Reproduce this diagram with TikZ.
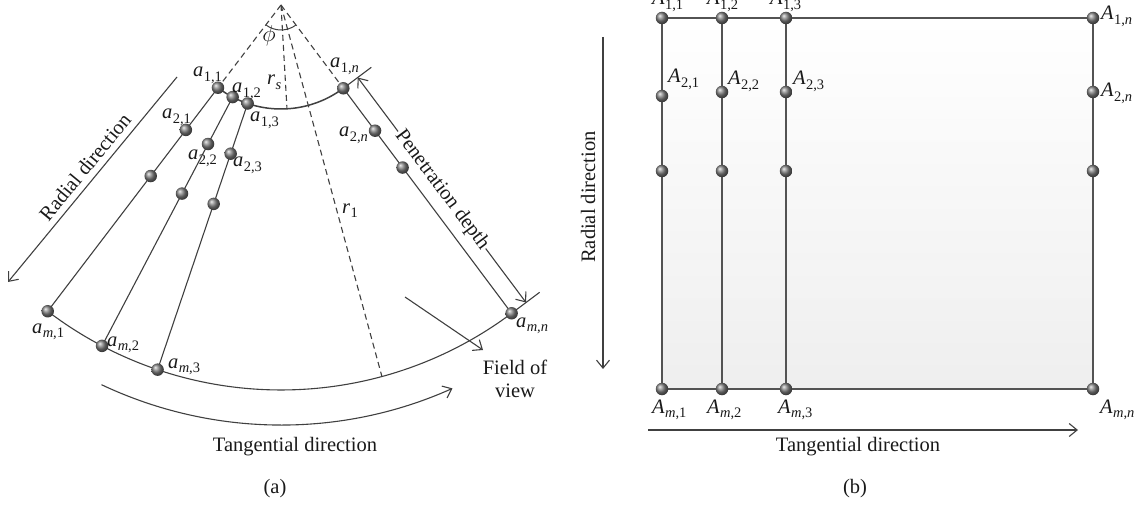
\RequirePackage{fix-cm}
\documentclass[tikz,border=0pt]{standalone}
\usepackage{fontspec}
\setmainfont{Liberation Serif}
\usetikzlibrary{calc,arrows.meta}
\definecolor{ln}{HTML}{404040}
\definecolor{txt}{HTML}{1A1A1A}
\newcommand{\idx}[2]{\textit{#1}\kern0.3pt\raisebox{-4.5pt}{\fontsize{14.5}{14.5}\selectfont #2}}
\begin{document}
\begin{tikzpicture}[x=1pt,y=1pt,
  every node/.style={font=\fontsize{20.5}{23}\selectfont, text=txt},
  dot/.style={circle, inner sep=0pt, minimum size=12.5pt, shading=ball, ball color=black!50},
  lab/.style={anchor=base west, inner sep=0pt},
  ray/.style={draw=ln, line width=1.1pt},
  dsh/.style={draw=ln, line width=1.1pt, dash pattern=on 6pt off 4pt},
  arr/.style={draw=ln, line width=1.1pt, -{Straight Barb[length=8pt,width=13pt]}},
  gline/.style={draw=ln!90, line width=1.3pt}]
\useasboundingbox (0,0) rectangle (1146,-508);
% ---------------- (a) ----------------
\coordinate (O) at (281,-5);
\foreach \n/\ang/\rt in {1/232.7/215, 2/242.3/213, 3/251.3/210, n/306.8/203} {
  \coordinate (p1\n) at ($(O)+(\ang:104)$);
  \coordinate (p2\n) at ($(O)+(\ang:157)$);
  \coordinate (p3\n) at ($(O)+(\ang:\rt)$);
  \coordinate (pm\n) at ($(O)+(\ang:385)$);
}
\coordinate (rs) at ($(O)+(273.3:104)$);
\coordinate (r1) at ($(O)+(285.2:385)$);
\draw[dsh] (O) -- (p11);
\draw[dsh] (O) -- (p1n);
\draw[dsh] (O) -- (rs);
\draw[dsh] (O) -- (r1);
\draw[ln, line width=1pt] ($(O)+(232.7:25)$) arc[start angle=232.7, end angle=306.8, radius=25];
\draw[ray, line width=1.5pt] (p11) arc[start angle=232.7, end angle=306.8, radius=104];
\draw[ray] (pm1) arc[start angle=232.7, end angle=306.8, radius=385];
\foreach \n in {1,2,3,n} { \draw[ray] (p1\n) -- (pm\n); }
\coordinate (t1) at ($(p1n)+(36.8:35)$);
\coordinate (t2) at ($(pmn)+(36.8:35)$);
\draw[ray] (p1n) -- (t1);
\draw[ray] (pmn) -- (t2);
\coordinate (pa) at ($(O)+(306.8:104)+(36.8:18)$);
\coordinate (pb) at ($(O)+(306.8:385)+(36.8:18)$);
\draw[ln, line width=1.1pt, {Straight Barb[length=8pt,width=13pt]}-{Straight Barb[length=8pt,width=13pt]}]
  (pa) -- node[fill=white, rotate=-53.2, inner sep=1pt] (pdep) {Penetration depth} (pb);
\coordinate (ra) at (177,-77);
\coordinate (rb) at (8,-282);
\draw[arr] (ra) -- (rb);
\node[rotate=50.5] (radl) at (85,-167) {Radial direction};
\coordinate (ta) at ($(O)+(244.7:420)$);
\draw[arr] (ta) arc[start angle=244.7, end angle=294.1, radius=420];
\coordinate (fa) at (405,-297);
\coordinate (fb) at (483,-350);
\draw[arr] (fa) -- (fb);
\node[align=center] (fov) at (515,-379) {Field of\\view};
\node (tanl) at (295,-447) {Tangential direction};
\node (capa) at (275,-489) {(a)};
\foreach \n in {1,2,3,n} { \foreach \r in {1,2,3,m} { \node[dot] (a\r\n) at (p\r\n) {}; } }
\node[lab] (l11) at (193,-77) {\idx{a}{1,1}};
\node[lab] (l12) at (232,-93) {\idx{a}{1,2}};
\node[lab] (l13) at (250,-122) {\idx{a}{1,3}};
\node[lab] (l1n) at (330,-68) {\idx{a}{1,\textit{n}}};
\node[lab] (l21) at (162,-119) {\idx{a}{2,1}};
\node[lab] (l22) at (188,-160) {\idx{a}{2,2}};
\node[lab] (l23) at (233,-167) {\idx{a}{2,3}};
\node[lab] (l2n) at (339,-137) {\idx{a}{2,\textit{n}}};
\node[lab] (lm1) at (32,-333) {\idx{a}{\textit{m},1}};
\node[lab] (lm2) at (107,-346) {\idx{a}{\textit{m},2}};
\node[lab] (lm3) at (168,-368) {\idx{a}{\textit{m},3}};
\node[lab] (lmn) at (516,-327) {\idx{a}{\textit{m},\textit{n}}};
\node[lab] (lrs) at (267,-85) {\idx{r}{\textit{s}}};
\node[lab] (lr1) at (342,-213) {\idx{r}{1}};
\node[font=\fontsize{23}{23}\selectfont] (lphi) at (269,-36) {$\phi$};
% ---------------- (b) ----------------
\shade[top color=white, bottom color=gray!13] (662,-18) rectangle (1093,-389);
\foreach \c/\x in {1/662, 2/722, 3/786, n/1093} {
  \coordinate (B1\c) at (\x,-18);
  \coordinate (B2\c) at (\x,-92);
  \coordinate (B3\c) at (\x,-171);
  \coordinate (Bm\c) at (\x,-389);
}
\coordinate (B21) at (662,-96);
\draw[gline] (B11) -- (B1n);
\draw[gline] (Bm1) -- (Bmn);
\foreach \c in {1,2,3,n} { \draw[gline] (B1\c) -- (Bm\c); }
\foreach \c in {1,2,3,n} { \foreach \r in {1,2,3,m} { \node[dot] (A\r\c) at (B\r\c) {}; } }
\node[lab] (L11) at (652,-5) {\idx{A}{1,1}};
\node[lab] (L12) at (707,-5) {\idx{A}{1,2}};
\node[lab] (L13) at (770,-5) {\idx{A}{1,3}};
\node[lab] (L1n) at (1101,-20) {\idx{A}{1,\textit{n}}};
\node[lab] (L21) at (668,-83) {\idx{A}{2,1}};
\node[lab] (L22) at (728,-85) {\idx{A}{2,2}};
\node[lab] (L23) at (793,-85) {\idx{A}{2,3}};
\node[lab] (L2n) at (1101,-97) {\idx{A}{2,\textit{n}}};
\node[lab] (Lm1) at (652,-413) {\idx{A}{\textit{m},1}};
\node[lab] (Lm2) at (707,-413) {\idx{A}{\textit{m},2}};
\node[lab] (Lm3) at (778,-413) {\idx{A}{\textit{m},3}};
\node[lab] (Lmn) at (1100,-413) {\idx{A}{\textit{m},\textit{n}}};
\coordinate (qa) at (603,-37);
\coordinate (qb) at (603,-369);
\draw[arr] (qa) -- (qb);
\node[rotate=90] (radr) at (588,-197) {Radial direction};
\coordinate (ua) at (648,-430);
\coordinate (ub) at (1078,-430);
\draw[arr] (ua) -- (ub);
\node (tanr) at (858,-447) {Tangential direction};
\node (capb) at (855,-489) {(b)};
\end{tikzpicture}
\end{document}
